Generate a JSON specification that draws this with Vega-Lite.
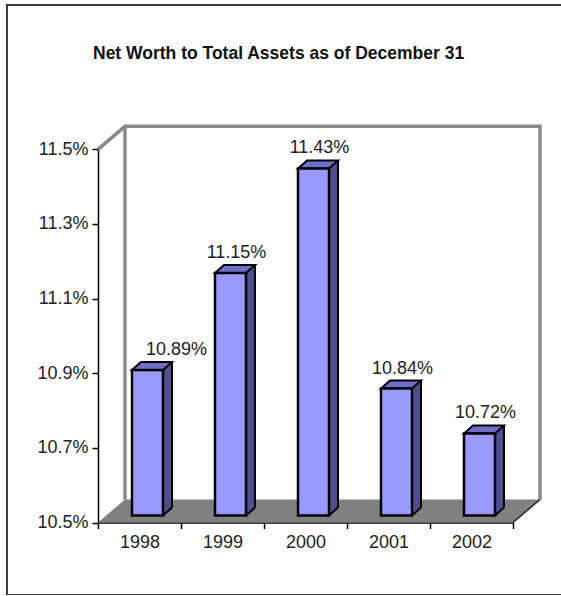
{
  "$schema": "https://vega.github.io/schema/vega-lite/v6.json",
  "width": 570,
  "height": 590,
  "autosize": "none",
  "padding": {"left": 7, "top": 5, "right": 0, "bottom": 0},
  "background": "white",
  "config": {
    "view": {"stroke": "#3c3c3c", "strokeWidth": 2},
    "font": "Liberation Sans"
  },
  "title": {
    "text": "Net Worth to Total Assets as of December 31",
    "fontSize": 17.5,
    "fontWeight": "bold",
    "font": "Liberation Sans",
    "color": "#111111",
    "anchor": "start",
    "frame": "group",
    "dx": 86,
    "offset": -66,
    "baseline": "middle"
  },
  "data": {
    "values": [
      {"year": "1998", "value": 0.1089},
      {"year": "1999", "value": 0.1115},
      {"year": "2000", "value": 0.1143},
      {"year": "2001", "value": 0.1084},
      {"year": "2002", "value": 0.1072}
    ]
  },
  "encoding": {
    "x": {
      "field": "year",
      "type": "nominal",
      "scale": {"type": "band", "range": [91, 506], "paddingInner": 0, "paddingOuter": 0},
      "axis": {
        "title": null,
        "orient": "bottom",
        "offset": -72.5,
        "domainColor": "#000000",
        "domainWidth": 1.5,
        "tickColor": "#000000",
        "tickWidth": 1.5,
        "tickSize": 6,
        "tickBand": "extent",
        "labelAngle": 0,
        "labelFontSize": 18,
        "labelFont": "Liberation Sans",
        "labelColor": "#222222",
        "labelPadding": 5,
        "grid": false
      }
    },
    "y": {
      "field": "value",
      "type": "quantitative",
      "scale": {"domain": [0.105, 0.115], "range": [517.5, 144.3], "zero": false, "nice": false},
      "axis": {
        "title": null,
        "orient": "left",
        "offset": -91,
        "values": [0.105, 0.107, 0.109, 0.111, 0.113, 0.115],
        "format": ".1%",
        "domainColor": "#000000",
        "domainWidth": 1.5,
        "tickColor": "#000000",
        "tickWidth": 1.5,
        "tickSize": 6,
        "labelFontSize": 18,
        "labelFont": "Liberation Sans",
        "labelColor": "#222222",
        "labelPadding": 4,
        "grid": false
      }
    }
  },
  "layer": [
    {
      "transform": [{"filter": "datum.year == '1998'"}],
      "mark": {
        "type": "point",
        "shape": "M-41.5,0 L-14.5,-23 L400.5,-23 L400.5,350.5 M-14.5,-23 L-14.5,350.5",
        "size": 4,
        "filled": false,
        "fill": "transparent",
        "stroke": "#8a8a8a",
        "strokeWidth": 3.5,
        "opacity": 1
      },
      "encoding": {
        "y": {"datum": 0.115, "type": "quantitative"}
      }
    },
    {
      "transform": [{"filter": "datum.year == '1998'"}],
      "mark": {
        "type": "point",
        "shape": "M-41.5,0 L-14.5,-23 L400.5,-23 L373.5,0 Z",
        "size": 4,
        "filled": true,
        "fill": "#808080",
        "strokeWidth": 0,
        "opacity": 1
      },
      "encoding": {
        "y": {"datum": 0.105, "type": "quantitative"}
      }
    },
    {
      "transform": [{"filter": "datum.year == '2002'"}],
      "mark": {
        "type": "point",
        "shape": "M41.5,0 L68.5,-23",
        "size": 4,
        "filled": false,
        "fill": "transparent",
        "stroke": "#222222",
        "strokeWidth": 1.5,
        "opacity": 1
      },
      "encoding": {
        "y": {"datum": 0.105, "type": "quantitative"}
      }
    },
    {
      "mark": {"type": "bar", "width": 9, "xOffset": 28, "yOffset": -15, "y2Offset": -7, "fill": "#4f4f8f", "strokeWidth": 0},
      "encoding": {"y2": {"datum": 0.105}}
    },
    {
      "mark": {
        "type": "point",
        "shape": "M23.5,-7 L32.5,-15 L33.5,-15 L33.5,-5 L23.5,-5 Z",
        "size": 4,
        "filled": true,
        "fill": "#808080",
        "strokeWidth": 0,
        "opacity": 1
      },
      "encoding": {"y": {"datum": 0.105, "type": "quantitative"}}
    },
    {
      "mark": {
        "type": "point",
        "shape": "M23.5,-7 L32.5,-15",
        "size": 4,
        "filled": false,
        "fill": "transparent",
        "stroke": "#000000",
        "strokeWidth": 2,
        "opacity": 1
      },
      "encoding": {"y": {"datum": 0.105, "type": "quantitative"}}
    },
    {
      "mark": {"type": "rule", "xOffset": 32.5, "yOffset": -15, "y2Offset": -15, "stroke": "#000000", "strokeWidth": 2},
      "encoding": {"y2": {"datum": 0.105}}
    },
    {
      "mark": {
        "type": "point",
        "shape": "M-7.5,-7 L1.5,-15 L32.5,-15 L23.5,-7 Z",
        "size": 4,
        "filled": true,
        "fill": "#6f6fc8",
        "stroke": "#000000",
        "strokeWidth": 2,
        "strokeJoin": "miter",
        "opacity": 1
      }
    },
    {
      "mark": {"type": "bar", "width": 31, "xOffset": 8, "yOffset": -7, "y2Offset": -7, "fill": "#9999ff", "stroke": "#000000", "strokeWidth": 2.5},
      "encoding": {"y2": {"datum": 0.105}}
    },
    {
      "transform": [{"filter": "datum.year != '1998'"}],
      "mark": {"type": "text", "xOffset": 14, "yOffset": -27, "fontSize": 18, "font": "Liberation Sans", "color": "#222222", "baseline": "middle", "align": "center"},
      "encoding": {"text": {"field": "value", "type": "quantitative", "format": ".2%"}}
    },
    {
      "transform": [{"filter": "datum.year == '1998'"}],
      "mark": {"type": "text", "xOffset": 37, "yOffset": -27, "fontSize": 18, "font": "Liberation Sans", "color": "#222222", "baseline": "middle", "align": "center"},
      "encoding": {"text": {"field": "value", "type": "quantitative", "format": ".2%"}}
    }
  ]
}
